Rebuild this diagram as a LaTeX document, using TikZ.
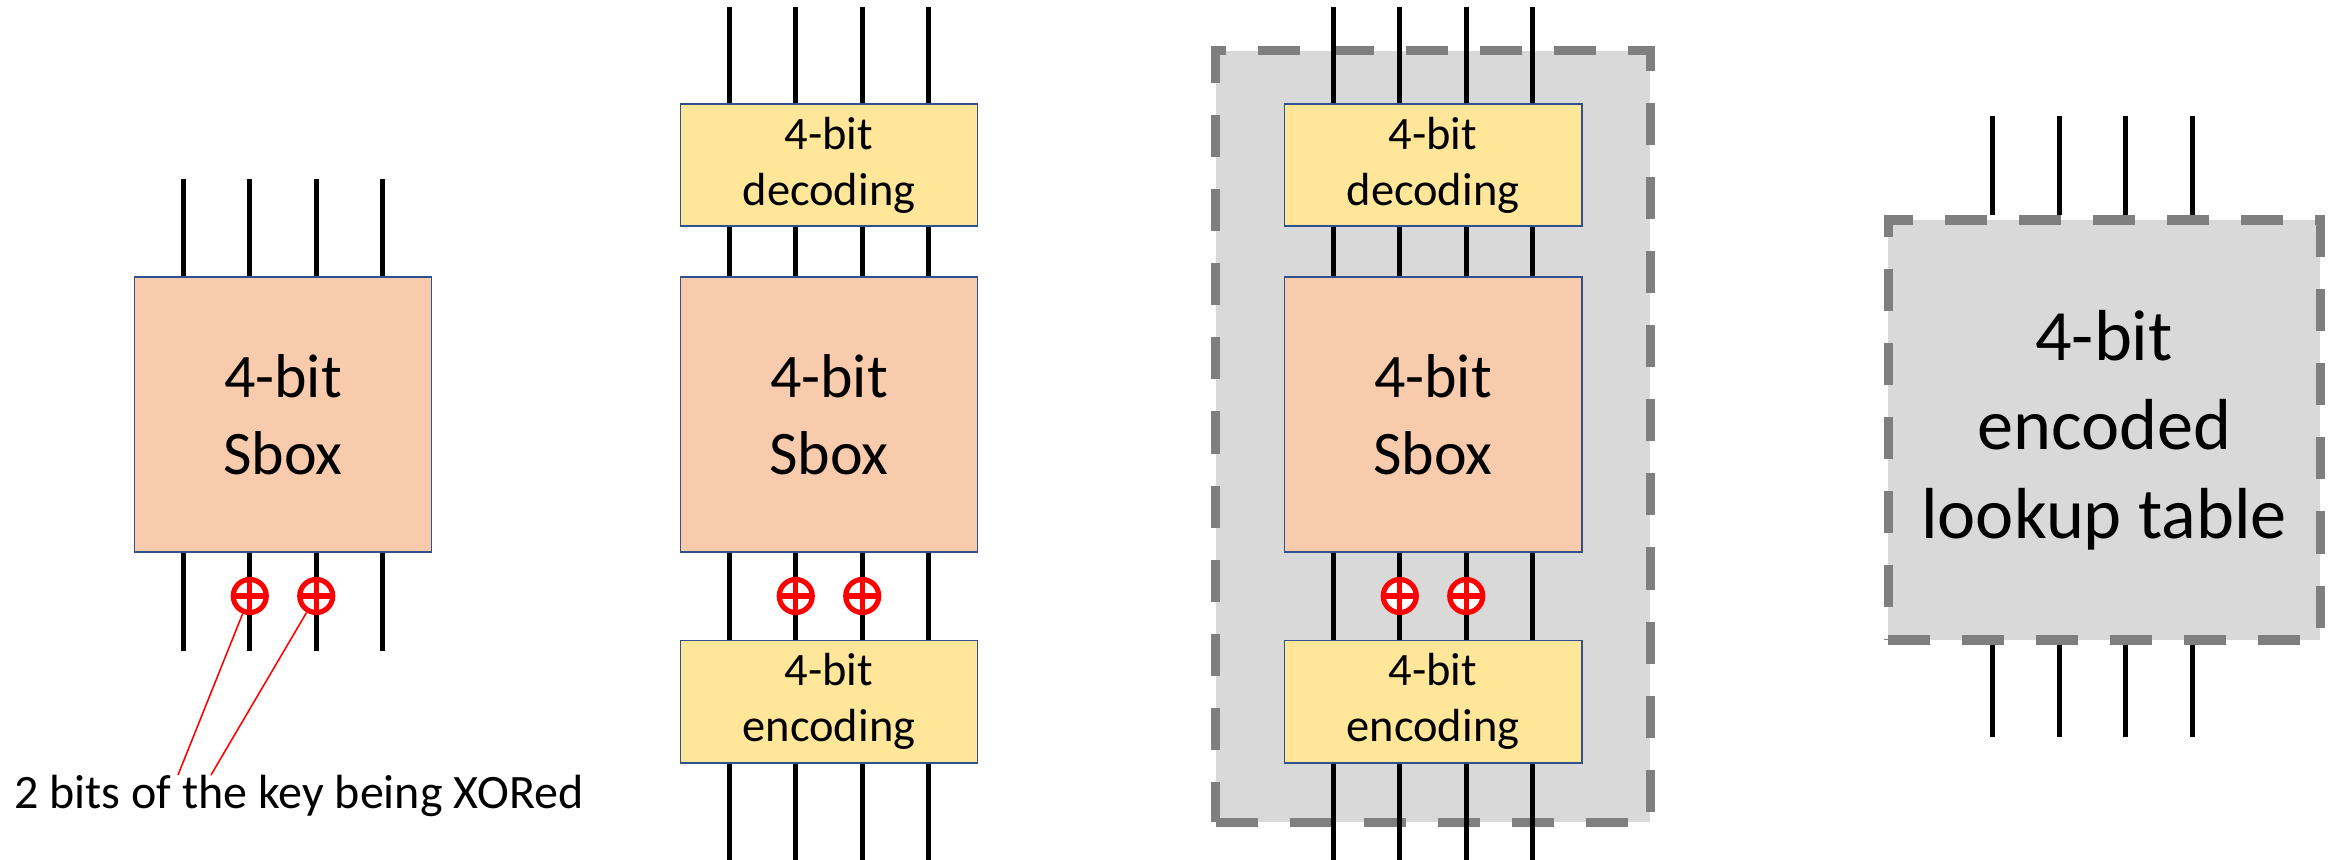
\documentclass[tikz,border=0pt]{standalone}
\usepackage{fontspec}
\setmainfont{Carlito}
\definecolor{sboxfill}{HTML}{F8CBAD}
\definecolor{codefill}{HTML}{FFE699}
\definecolor{boxline}{HTML}{2F528F}
\definecolor{tablefill}{HTML}{D9D9D9}
\definecolor{tableline}{HTML}{7F7F7F}
\begin{document}
\begin{tikzpicture}[x=0.3875pt,y=0.3875pt,yscale=-1,xscale=1,
    wire/.style={line width=2.1pt},
    sboxnode/.style={draw=boxline,line width=0.75pt,fill=sboxfill,minimum width=115.1pt,minimum height=106.6pt,inner sep=0pt,align=center,font=\fontsize{24}{29.8}\selectfont},
    codenode/.style={draw=boxline,line width=0.75pt,fill=codefill,minimum width=115.1pt,minimum height=47.3pt,inner sep=0pt,align=center,font=\fontsize{18}{21.7}\selectfont},
    tablebox/.style={draw=tableline,line width=3.5pt,dash pattern=on 16.3pt off 12.4pt,fill=tablefill,inner sep=0pt,align=center,font=\fontsize{28}{34.5}\selectfont},
    xorop/.style={circle,draw=red,fill=white,line width=2pt,minimum size=12.8pt,inner sep=0pt,
        path picture={\draw[red,line width=2pt] (path picture bounding box.north) -- (path picture bounding box.south) (path picture bounding box.west) -- (path picture bounding box.east);}},
    leader/.style={red,line width=0.6pt}]
\useasboundingbox (0,0) rectangle (2336,860);

%Panel 1: plain Sbox
    \node (sb1) [sboxnode] at (283,414.5) {4-bit\\Sbox};
    \coordinate (t1) at (283,179);
    \coordinate (b1) at (283,651);
    \foreach \d in {-38.65,-12.88,12.88,38.65} {
        \draw[wire] ([xshift=\d pt]sb1.north) -- ([xshift=\d pt]sb1.north |- t1);
        \draw[wire] ([xshift=\d pt]sb1.south) -- ([xshift=\d pt]sb1.south |- b1);
    }
    \node (x1a) [xorop] at (249.75,596) {};
    \node (x1b) [xorop] at (316.25,596) {};
% Text Node
    \node (key1) [anchor=base west,inner sep=0pt,font=\fontsize{18.6}{22.4}\selectfont] at (14,808) {2 bits of the key being XORed};
    \coordinate (k1a) at (178,775);
    \coordinate (k1b) at (211,775);
    \draw[leader] (x1a) -- (k1a);
    \draw[leader] (x1b) -- (k1b);

%Panel 2: Sbox between decoding and encoding
    \node (dec2) [codenode] at (829,165) {4-bit\\decoding};
    \node (sb2) [sboxnode] at (829,414.5) {4-bit\\Sbox};
    \node (enc2) [codenode] at (829,701.5) {4-bit\\encoding};
    \coordinate (t2) at (829,7.5);
    \coordinate (b2) at (829,860);
    \foreach \d in {-38.65,-12.88,12.88,38.65} {
        \draw[wire] ([xshift=\d pt]dec2.north) -- ([xshift=\d pt]dec2.north |- t2);
        \draw[wire] ([xshift=\d pt]dec2.south) -- ([xshift=\d pt]sb2.north);
        \draw[wire] ([xshift=\d pt]sb2.south) -- ([xshift=\d pt]enc2.north);
        \draw[wire] ([xshift=\d pt]enc2.south) -- ([xshift=\d pt]enc2.south |- b2);
    }
    \node (x2a) [xorop] at (795.75,596) {};
    \node (x2b) [xorop] at (862.25,596) {};

%Panel 3: the same, merged into one table
    \node (tab3) [tablebox,minimum width=168.2pt,minimum height=298.8pt] at (1433,436.5) {};
    \node (dec3) [codenode] at (1433,165) {4-bit\\decoding};
    \node (sb3) [sboxnode] at (1433,414.5) {4-bit\\Sbox};
    \node (enc3) [codenode] at (1433,701.5) {4-bit\\encoding};
    \coordinate (t3) at (1433,7.5);
    \coordinate (b3) at (1433,860);
    \foreach \d in {-38.65,-12.88,12.88,38.65} {
        \draw[wire] ([xshift=\d pt]dec3.north) -- ([xshift=\d pt]dec3.north |- t3);
        \draw[wire] ([xshift=\d pt]dec3.south) -- ([xshift=\d pt]sb3.north);
        \draw[wire] ([xshift=\d pt]sb3.south) -- ([xshift=\d pt]enc3.north);
        \draw[wire] ([xshift=\d pt]enc3.south) -- ([xshift=\d pt]enc3.south |- b3);
    }
    \node (x3a) [xorop] at (1399.75,596) {};
    \node (x3b) [xorop] at (1466.25,596) {};

%Panel 4: encoded lookup table
    \node (lut4) [tablebox,minimum width=167.4pt,minimum height=162.75pt] at (2104,430) {4-bit\\encoded\\lookup table};
    \coordinate (t4) at (2092.5,116);
    \coordinate (b4) at (2092.5,737);
    \foreach \d in {-43.11,-17.34,8.42,34.19} {
        \draw[wire] ([xshift=\d pt]lut4.north) -- ([xshift=\d pt]lut4.north |- t4);
        \draw[wire] ([xshift=\d pt]lut4.south) -- ([xshift=\d pt]lut4.south |- b4);
    }
\end{tikzpicture}
\end{document}
